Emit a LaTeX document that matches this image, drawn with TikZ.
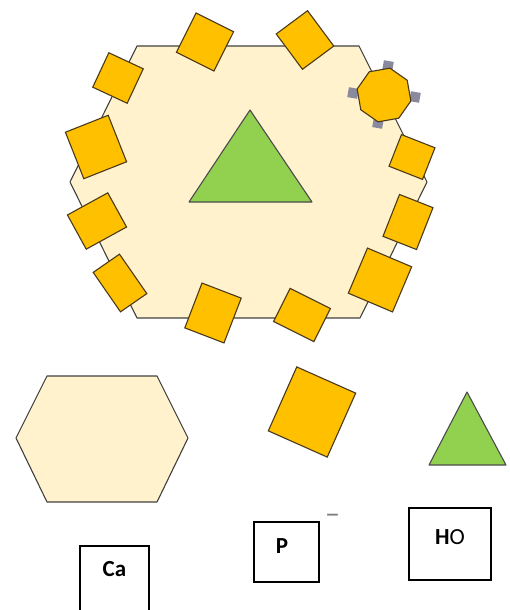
\documentclass[tikz,border=0pt]{standalone}
\usepackage{fontspec}
\setmainfont{Carlito}
\usepackage{tikz}
\usetikzlibrary{shapes, shapes.geometric, positioning, calc}
\usepackage{xcolor}
\definecolor{hexfill}{HTML}{FFF2CC}
\definecolor{sqfill}{HTML}{FFC000}
\definecolor{sqline}{HTML}{4A3A1A}
\definecolor{trifill}{HTML}{92D050}
\definecolor{handlegray}{HTML}{8A8A9E}
\tikzset{
	hexa/.style={draw=black!75, fill=hexfill, line width=1.1pt, line join=round},
	tri/.style={draw=black!70, fill=trifill, line width=1.1pt, line join=round},
	sq/.style={rectangle, draw=sqline, fill=sqfill, line width=1.1pt, inner sep=0pt},
	handle/.style={rectangle, fill=handlegray, minimum size=10pt, inner sep=0pt},
	labbox/.style={rectangle, draw=black, line width=1.1pt, inner sep=0pt},
	lbl/.style={font=\fontsize{23}{26}\selectfont\bfseries, inner sep=0pt},
}

\begin{document}
\begin{tikzpicture}[x=1pt, y=-1pt]
	\useasboundingbox (0,0) rectangle (509,610);

	% crystal cell
	\draw[hexa] (137,46) -- (359,46) -- (427,182) -- (360,318) -- (137,318) -- (70,182) -- cycle;
	\draw[tri] (250,110) -- (312,202) -- (189,202) -- cycle;

	% phosphate groups round the edge
	\foreach \n/\x/\y/\a/\w/\h in {1/205/42/-26.6/42/44, 2/305/40/-53.4/44/39,
		3/118/78/-25/38/38, 4/96/147/21.6/46/50, 5/97/221/28.8/46/39,
		6/120/283/34.7/32/48, 7/213/313/-21/42/48, 8/302/315/-26.6/45/37,
		9/380/280/-23/48/49, 10/408/222/-21.5/36/45, 11/412/157/-21.5/36/34}{
		\node[sq, minimum width=\w pt, minimum height=\h pt, rotate=\a] (sq\n) at (\x,\y) {};
	}

	% selected one, with its handles
	\node[handle, rotate=-10] (hdtop) at (388,66) {};
	\node[handle, rotate=-10] (hdleft) at (353,93) {};
	\node[handle, rotate=-10] (hdright) at (415,97) {};
	\node[handle, rotate=-10] (hdbot) at (378,123) {};
	\node[sq, regular polygon, regular polygon sides=8, minimum size=55pt, rotate=10] (sel) at (384,95) {};

	% legend shapes
	\draw[hexa] (47,376) -- (157,376) -- (188,438) -- (157,502) -- (47,502) -- (16,438) -- cycle;
	\node[sq, minimum width=64.5pt, minimum height=70pt, rotate=-24] (sqbig) at (312,412) {};
	\draw[tri] (467,392) -- (506,465) -- (429,465) -- cycle;

	% legend labels
	\node[labbox, minimum width=69pt, minimum height=66pt] (cabox) at (114.5,579) {};
	\node[lbl] (ca) at ($(cabox.north)+(0,24)$) {Ca};
	\node[labbox, minimum width=65pt, minimum height=60pt] (pbox) at (286.5,552) {};
	\node[lbl] (p) at ($(pbox.north)+(-4.5,25)$) {P};
	\node[inner sep=0pt, text=black!50, font=\fontsize{30}{32}\selectfont] (minus) at ($(pbox.north east)+(13,-3)$) {\textendash};
	\node[labbox, minimum width=82pt, minimum height=72pt] (hobox) at (450,544) {};
	\node[lbl] (ho) at ($(hobox.north)+(0,30)$) {H\textmd{O}};
\end{tikzpicture}
\end{document}
